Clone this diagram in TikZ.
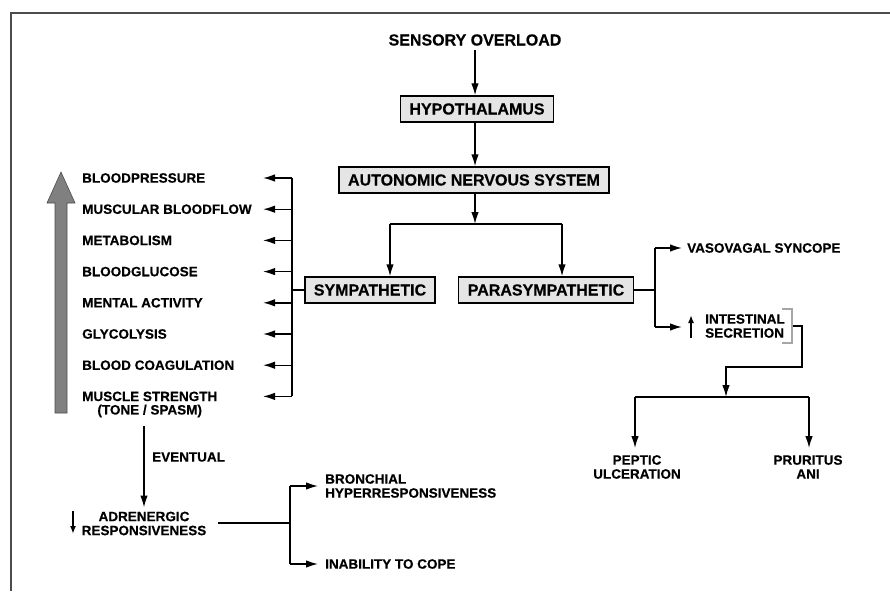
\documentclass[tikz,border=0pt]{standalone}
\usepackage{fontspec}
\setmainfont{Liberation Sans}[FakeBold=0.4]
\usetikzlibrary{arrows.meta}
\begin{document}
\begin{tikzpicture}[x=1pt,y=-1pt,
  lbl/.style={font=\fontsize{13.5}{14}\selectfont\bfseries, inner sep=0pt},
  big/.style={font=\fontsize{16}{18}\selectfont\bfseries, inner sep=0pt},
  boxn/.style={big, draw=black, line width=1.4pt, fill=gray!20, inner xsep=9pt, minimum height=26pt},
  ln/.style={line width=1.4pt},
  arr/.style={ln, -{Latex[length=12pt,width=7.5pt]}},
  sarr/.style={line width=1.6pt, -{Latex[length=8pt,width=6pt]}}]
\useasboundingbox (0,0) rectangle (890,591);
\fill[white] (0,0) rectangle (890,591);
% frame
\draw[line width=1.3pt, gray!60!black] (11,591) -- (11,13) -- (890,13);

% top chain
\node[big] (title) at (475,40) {SENSORY OVERLOAD};
\node[boxn] (hypo) at (477,109) {HYPOTHALAMUS};
\node[boxn] (ans) at (474,180) {AUTONOMIC NERVOUS SYSTEM};
\node[boxn] (symp) at (370,290) {SYMPATHETIC};
\node[boxn] (para) at (546,290) {PARASYMPATHETIC};
\coordinate (split) at (475,224);
\coordinate (sL) at (390,224);
\coordinate (sR) at (562,224);
\draw[arr, shorten <=4pt] (title.south -| split) -- (hypo.north -| split);
\draw[arr] (hypo.south -| split) -- (ans.north -| split);
\draw[arr] (ans.south -| split) -- (split);
\draw[ln] (sL) -- (sR);
\draw[arr] (sL) -- (sL |- symp.north);
\draw[arr] (sR) -- (sR |- para.north);

% sympathetic effects
\node[lbl, anchor=west] (bp) at (82,178) {BLOODPRESSURE};
\node[lbl, anchor=west] (mb) at (82,209.2) {MUSCULAR BLOODFLOW};
\node[lbl, anchor=west] (me) at (82,240.4) {METABOLISM};
\node[lbl, anchor=west] (bg) at (82,271.6) {BLOODGLUCOSE};
\node[lbl, anchor=west] (ma) at (82,302.8) {MENTAL ACTIVITY};
\node[lbl, anchor=west] (gl) at (82,334) {GLYCOLYSIS};
\node[lbl, anchor=west] (bc) at (82,365.2) {BLOOD COAGULATION};
\node[lbl, anchor=west] (ms) at (82,396.4) {MUSCLE STRENGTH};
\coordinate (toneY) at (0,411);
\node[lbl] (tone) at (ms.center |- toneY) {(TONE / SPASM)};
\coordinate (bx) at (292,290);
\coordinate (tx) at (263,290);
\draw[ln] (symp.west) -- (bx);
\draw[ln] (bx |- bp) -- (bx |- ms);
\foreach \n in {bp,mb,me,bg,ma,gl,bc,ms}
  \draw[arr] (bx |- \n) -- (tx |- \n);

% big gray arrow
\filldraw[fill=black!50, draw=black!70, line width=0.6pt]
  (55,413) -- (55,203) -- (47,203) -- (61,172) -- (75,203) -- (67,203) -- (67,413) -- cycle;

% eventual
\node[lbl, align=center] (adr) at (144,523.5) {ADRENERGIC\\RESPONSIVENESS};
\draw[arr, shorten <=9pt, shorten >=4pt] (tone.south -| adr.north) -- (adr.north);
\node[lbl, anchor=west] (ev) at (152,457) {EVENTUAL};
\draw[sarr] (73,511) -- (73,534);
\coordinate (ab) at (290,523);
\draw[ln, shorten <=12pt] (adr.east |- ab) -- (ab);
\node[lbl, anchor=west, align=left] (br) at (325,486) {BRONCHIAL\\HYPERRESPONSIVENESS};
\node[lbl, anchor=west] (inab) at (325,564) {INABILITY TO COPE};
\draw[ln] (ab |- br) -- (ab |- inab);
\draw[arr, shorten >=7pt] (ab |- br) -- (br.west);
\draw[arr, shorten >=7pt] (ab |- inab) -- (inab.west);

% parasympathetic effects
\coordinate (pb) at (655,290);
\draw[ln] (para.east) -- (pb);
\node[lbl, anchor=west] (vas) at (687,248) {VASOVAGAL SYNCOPE};
\node[lbl, anchor=west, align=left] (int) at (705,326) {INTESTINAL\\SECRETION};
\coordinate (itip) at (682,327);
\draw[ln] (pb |- vas) -- (pb |- itip);
\draw[arr, shorten >=5pt] (pb |- vas) -- (vas.west);
\draw[arr] (pb |- itip) -- (itip);
\draw[sarr] (691,338) -- (691,315);
\draw[gray!70, line width=1.5pt] (782,309) -- (792,309) -- (792,343) -- (782,343);
\coordinate (qT) at (726,397);
\coordinate (qL) at (635,397);
\coordinate (qR) at (809,397);
\draw[arr] (793,326) -- (802,326) -- (802,367) -- (726,367) -- (qT);
\draw[ln] (qL) -- (qR);
\node[lbl, align=center] (pep) at (637,467) {PEPTIC\\ULCERATION};
\node[lbl, align=center] (pru) at (808,467) {PRURITUS\\ANI};
\draw[arr, shorten >=7pt] (qL) -- (qL |- pep.north);
\draw[arr, shorten >=7pt] (qR) -- (qR |- pru.north);
\end{tikzpicture}
\end{document}
